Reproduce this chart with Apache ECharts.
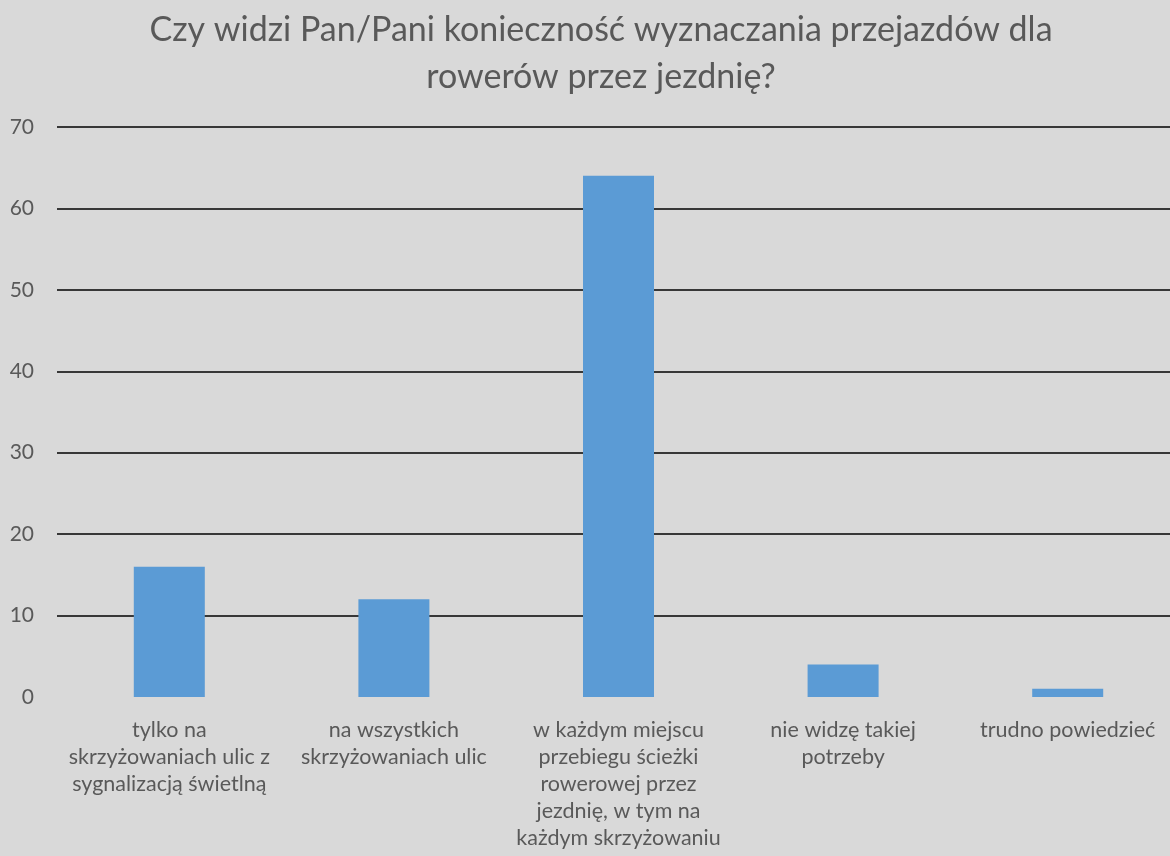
<!DOCTYPE html>
<html>
<head>
<meta charset="utf-8">
<script src="https://cdn.jsdelivr.net/npm/echarts@6/dist/echarts.min.js"></script>
<style>
  html, body { margin: 0; padding: 0; background: #d9d9d9; }
  #chart { width: 1170px; height: 856px; }
</style>
</head>
<body>
<div id="chart"></div>
<script>
const titleLines = [
  'Czy widzi Pan/Pani konieczność wyznaczania przejazdów dla',
  'rowerów przez jezdnię?'
];
const categories = [
  'tylko na\nskrzyżowaniach ulic z\nsygnalizacją świetlną',
  'na wszystkich\nskrzyżowaniach ulic',
  'w każdym miejscu\nprzebiegu ścieżki\nrowerowej przez\njezdnię, w tym na\nkażdym skrzyżowaniu',
  'nie widzę takiej\npotrzeby',
  'trudno powiedzieć'
];
const values = [16, 12, 64, 4, 1];
const yTicks = { min: 0, max: 70, interval: 10 };

const textColor = '#595959';
const font = 'Lato, "Open Sans", sans-serif';

const chart = echarts.init(document.getElementById('chart'), null, { renderer: 'canvas' });
chart.setOption({
  backgroundColor: '#d9d9d9',
  animation: false,
  title: {
    text: titleLines.join('\n'),
    left: 596,
    textAlign: 'center',
    top: 2,
    textStyle: {
      color: textColor,
      fontFamily: font,
      fontSize: 34,
      fontWeight: 'normal',
      lineHeight: 47
    }
  },
  // plot area runs a little past the right edge of the canvas
  grid: {
    left: 57,
    width: 1123,
    top: 127,
    bottom: 159,
    containLabel: false,
    outerBoundsMode: 'none'
  },
  xAxis: {
    type: 'category',
    data: categories,
    axisLine: { show: false },
    axisTick: { show: false },
    axisLabel: {
      interval: 0,
      margin: 20,
      color: textColor,
      fontFamily: font,
      fontSize: 21.5,
      lineHeight: 27
    }
  },
  yAxis: {
    type: 'value',
    min: yTicks.min,
    max: yTicks.max,
    interval: yTicks.interval,
    axisLine: { show: false },
    axisTick: { show: false },
    axisLabel: {
      margin: 23,
      color: textColor,
      fontFamily: font,
      fontSize: 21
    },
    splitLine: {
      show: true,
      showMinLine: false,
      lineStyle: { color: '#000000', width: 1.5 }
    }
  },
  series: [{
    type: 'bar',
    data: values,
    barWidth: 71,
    itemStyle: { color: '#5b9bd5' }
  }]
});
</script>
</body>
</html>
